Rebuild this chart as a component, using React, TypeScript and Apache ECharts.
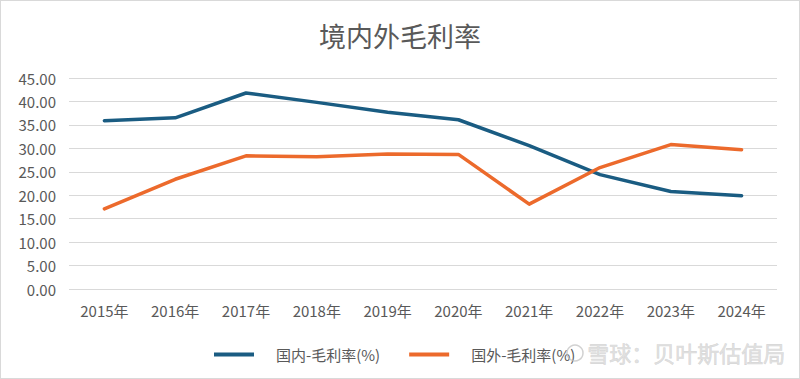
import React, { useEffect, useRef } from "react";
import * as echarts from "echarts";

const categories = ["2015年", "2016年", "2017年", "2018年", "2019年", "2020年", "2021年", "2022年", "2023年", "2024年"];
const domestic = [35.9, 36.5, 41.8, 39.8, 37.7, 36.1, 30.6, 24.4, 20.8, 19.9];
const overseas = [17.1, 23.4, 28.4, 28.2, 28.8, 28.7, 18.1, 25.9, 30.8, 29.7];
const seriesNames = ["国内-毛利率(%)", "国外-毛利率(%)"];
const titleText = "境内外毛利率";
const watermark = "雪球：贝叶斯估值局";

const FONT = '"Noto Sans CJK SC", "Noto Sans", sans-serif';

export default function App() {
  const ref = useRef<HTMLDivElement>(null);
  useEffect(() => {
    if (!ref.current) return;
    const chart = echarts.init(ref.current, null, { renderer: "svg" });
    chart.setOption({
      animation: false,
      backgroundColor: "#ffffff",
      textStyle: { fontFamily: FONT },
      title: {
        text: titleText,
        left: "center",
        top: 16,
        textStyle: { fontSize: 27, fontWeight: "normal", color: "#595959", fontFamily: FONT },
      },
      grid: { left: 68, right: 22, top: 77, bottom: 89, containLabel: false },
      legend: {
        left: 208,
        top: 341,
        itemWidth: 40,
        itemHeight: 4,
        itemGap: 29,
        icon: "rect",
        textStyle: { fontSize: 15, color: "#595959", fontFamily: FONT, padding: [0, 0, 0, 17] },
        data: seriesNames,
      },
      xAxis: {
        type: "category",
        data: categories,
        boundaryGap: true,
        axisLine: { show: false },
        axisTick: { show: false },
        axisLabel: { fontSize: 15, color: "#595959", margin: 14, fontFamily: FONT },
      },
      yAxis: {
        type: "value",
        min: 0,
        max: 45,
        interval: 5,
        axisLine: { show: false },
        axisTick: { show: false },
        splitLine: { lineStyle: { color: "#d9d9d9", width: 1 } },
        axisLabel: {
          fontSize: 15,
          color: "#595959",
          margin: 13,
          fontFamily: FONT,
          formatter: (v: number) => v.toFixed(2),
        },
      },
      series: [
        {
          name: seriesNames[0],
          type: "line",
          data: domestic,
          symbol: "none",
          lineStyle: { color: "#1A5C82", width: 3.5, cap: "round", join: "round" },
          itemStyle: { color: "#1A5C82" },
        },
        {
          name: seriesNames[1],
          type: "line",
          data: overseas,
          symbol: "none",
          lineStyle: { color: "#EC6A2C", width: 3.5, cap: "round", join: "round" },
          itemStyle: { color: "#EC6A2C" },
        },
      ],
      graphic: [
        {
          type: "circle",
          shape: { cx: 574, cy: 352, r: 8 },
          style: { fill: "none", stroke: "rgba(190,190,190,0.7)", lineWidth: 1.5 },
          z: 100,
        },
        {
          type: "text",
          left: 586,
          top: 340,
          style: {
            text: watermark,
            fontSize: 22,
            fontFamily: FONT,
            fill: "rgba(215,215,215,0.75)",
            stroke: "rgba(170,170,170,0.5)",
            lineWidth: 0.6,
          },
          z: 100,
        },
      ],
    });
    return () => chart.dispose();
  }, []);
  return (
    <div
      ref={ref}
      style={{
        position: "fixed",
        left: 0,
        top: 0,
        width: 800,
        height: 379,
        boxSizing: "border-box",
        border: "1px solid #d9d9d9",
      }}
    />
  );
}
